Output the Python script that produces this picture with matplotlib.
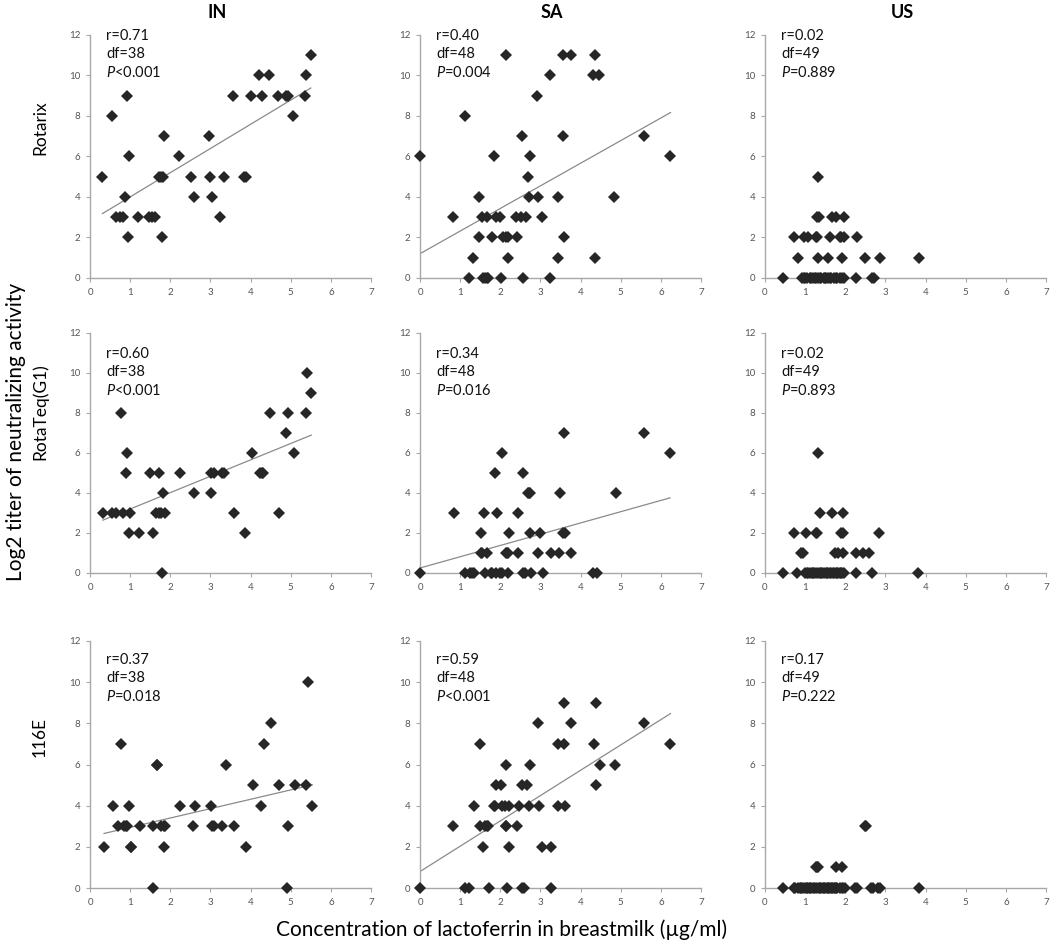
import matplotlib
matplotlib.use("Agg")
import matplotlib.pyplot as plt
import numpy as np

plt.rcParams['font.family'] = ['Lato', 'DejaVu Sans']
plt.rcParams['mathtext.fontset'] = 'custom'
plt.rcParams['mathtext.it'] = 'Lato:italic'
plt.rcParams['mathtext.rm'] = 'Lato'

countries = ["IN", "SA", "US"]
vaccines = ["Rotarix", "RotaTeq(G1)", "116E"]

# ---- Rotarix ----
in_rotarix_x = [0.31, 0.54, 0.66, 0.75, 0.83, 0.91, 0.88, 0.98, 0.95, 1.2, 1.47, 1.55, 1.62, 1.71, 1.76,
                1.82, 1.8, 1.85, 2.21, 2.52, 2.58, 2.97, 3.0, 3.05, 3.24, 3.33, 3.55, 3.84, 3.88, 4.01,
                4.21, 4.28, 4.46, 4.69, 4.88, 4.93, 5.05, 5.36, 5.38, 5.5]
in_rotarix_y = [5, 8, 3, 3, 3, 9, 4, 6, 2, 3, 3, 3, 3, 5, 5,
                5, 2, 7, 6, 5, 4, 7, 5, 4, 3, 5, 9, 5, 5, 9,
                10, 9, 10, 9, 9, 9, 8, 9, 10, 11]

sa_rotarix_x = [0.0, 0.81, 1.11, 1.23, 1.33, 1.48, 1.48, 1.55, 1.68, 1.58, 1.62, 1.66, 1.7, 1.8, 1.84,
                1.89, 2.0, 2.02, 2.13, 2.07, 2.13, 2.19, 2.2, 2.42, 2.4, 2.51, 2.63, 2.55, 2.56, 2.7,
                2.71, 2.75, 2.92, 2.94, 3.03, 3.25, 3.25, 3.43, 3.45, 3.55, 3.59, 3.57, 3.77, 4.3, 4.47,
                4.37, 4.35, 4.84, 5.58, 6.24]
sa_rotarix_y = [6, 3, 8, 0, 1, 4, 2, 3, 3, 0, 0, 0, 0, 2, 6,
                3, 3, 0, 11, 2, 2, 2, 1, 2, 3, 3, 3, 7, 0, 5,
                4, 6, 9, 4, 3, 10, 0, 1, 4, 7, 2, 11, 11, 10, 10,
                11, 1, 4, 7, 6]

us_rotarix_x = [0.44, 0.91, 0.98, 1.05, 1.12, 1.2, 1.27, 1.33, 1.4, 1.46, 1.52, 1.58, 1.65, 1.72, 1.8,
                1.88, 1.96, 2.27, 2.67, 2.71, 1.0, 1.15, 1.24, 1.36, 1.5, 1.62, 1.76, 1.92,
                0.82, 1.32, 1.57, 1.91, 2.49, 2.87, 3.84,
                0.71, 0.96, 1.06, 1.26, 1.3, 1.63, 1.86, 1.89, 1.97, 2.3,
                1.3, 1.34, 1.68, 1.77, 1.97, 1.32]
us_rotarix_y = [0] * 28 + [1] * 7 + [2] * 10 + [3] * 5 + [5]

# ---- RotaTeq(G1) ----
in_rotateq_x = [0.32, 0.55, 0.66, 0.81, 0.76, 0.93, 0.9, 1.0, 0.97, 1.23, 1.5, 1.56, 1.65, 1.73, 1.86,
                1.73, 1.8, 1.83, 2.24, 2.59, 3.02, 3.02, 3.09, 3.28, 3.35, 3.58, 3.87, 4.04, 4.23, 4.3,
                4.48, 4.71, 4.28, 4.89, 4.92, 5.07, 5.38, 5.41, 5.51, 1.78]
in_rotateq_y = [3, 3, 3, 3, 8, 6, 5, 3, 2, 2, 5, 2, 3, 3, 3,
                5, 0, 4, 5, 4, 4, 5, 5, 5, 5, 3, 2, 6, 5, 5,
                8, 3, 5, 7, 8, 6, 8, 10, 9, 3]

sa_rotateq_x = [0.0, 0.85, 1.13, 1.24, 1.34, 1.53, 1.53, 1.68, 1.59, 1.61, 1.76, 1.89, 1.86, 1.91, 2.04,
                2.05, 2.14, 2.2, 2.22, 2.2, 2.44, 2.45, 2.56, 2.56, 2.61, 2.68, 2.75, 2.75, 2.77, 2.94,
                2.98, 3.06, 3.27, 3.46, 3.48, 3.58, 3.6, 3.77, 4.32, 4.4, 4.88, 5.59, 6.23,
                1.3, 1.8, 2.17, 2.72, 3.57, 1.55, 2.0]
sa_rotateq_y = [0, 3, 0, 0, 0, 2, 1, 1, 3, 0, 0, 0, 5, 3, 6,
                0, 1, 1, 2, 0, 3, 1, 5, 0, 0, 4, 4, 2, 0, 1,
                2, 0, 1, 1, 4, 7, 2, 1, 0, 0, 4, 7, 6,
                0, 0, 1, 4, 2, 1, 0]

us_rotateq_x = [0.44, 0.8, 1.0, 1.05, 1.12, 1.2, 1.27, 1.33, 1.4, 1.46, 1.52, 1.58, 1.64, 1.7, 1.76,
                1.82, 1.93, 1.97, 2.27, 2.67, 3.8, 1.08, 1.16, 1.23, 1.36, 1.43, 1.55, 1.62, 1.73, 1.79,
                1.86, 1.9,
                0.9, 0.94, 1.74, 1.83, 1.95, 2.27, 2.44, 2.6,
                0.71, 1.03, 1.26, 1.3, 1.89, 1.95, 2.85,
                1.36, 1.66, 1.95, 1.31]
us_rotateq_y = [0] * 32 + [1] * 8 + [2] * 7 + [3] * 3 + [6]

# ---- 116E ----
in_116e_x = [0.35, 0.57, 0.77, 0.7, 0.85, 0.9, 0.96, 1.01, 1.25, 1.56, 1.58, 1.66, 1.78, 1.84, 1.88,
             1.85, 2.24, 2.57, 2.62, 3.01, 3.03, 3.1, 3.29, 3.38, 3.58, 3.89, 4.05, 4.26, 4.33, 4.5,
             4.72, 4.93, 4.9, 5.1, 5.38, 5.44, 5.54, 1.03, 1.68, 0.93]
in_116e_y = [2, 4, 7, 3, 3, 3, 4, 2, 3, 3, 0, 6, 3, 3, 3,
             2, 4, 3, 4, 4, 3, 3, 3, 6, 3, 2, 5, 4, 7, 8,
             5, 3, 0, 5, 5, 10, 4, 2, 6, 3]

sa_116e_x = [0.0, 0.83, 1.11, 1.23, 1.34, 1.5, 1.5, 1.61, 1.69, 1.57, 1.71, 1.84, 1.88, 1.9, 2.03,
             2.05, 2.11, 2.21, 2.15, 2.15, 2.17, 2.22, 2.42, 2.47, 2.53, 2.67, 2.55, 2.58, 2.74, 2.72,
             2.93, 2.96, 3.05, 3.26, 3.26, 3.45, 3.58, 3.45, 3.6, 3.58, 3.76, 4.33, 4.38, 4.38, 4.48,
             4.85, 5.59, 6.24, 1.66, 2.13]
sa_116e_y = [0, 3, 0, 0, 4, 7, 3, 3, 3, 2, 0, 4, 4, 5, 5,
             4, 4, 4, 6, 3, 0, 2, 3, 4, 5, 5, 0, 0, 6, 4,
             8, 4, 2, 0, 2, 7, 7, 4, 4, 9, 8, 7, 9, 5, 6,
             6, 8, 7, 3, 3]

us_116e_x = [0.44, 0.71, 0.81, 0.92, 1.03, 1.13, 1.25, 1.36, 1.46, 1.54, 1.63, 1.75, 1.87, 1.99, 2.29,
             2.68, 2.87, 3.83, 0.75, 0.86, 0.97, 1.08, 1.18, 1.3, 1.4, 1.5, 1.58, 1.68, 1.8, 1.92,
             2.25, 2.64, 1.21, 1.44, 1.72, 1.6, 1.34, 1.05, 0.9, 1.95, 2.82, 1.78, 1.12, 1.66,
             1.3, 1.32, 1.78, 1.93, 1.26,
             2.5, 2.52]
us_116e_y = [0] * 44 + [1] * 5 + [3] * 2

# trend lines (slope, intercept); None = not drawn
fits = [[(1.195, 2.81), (1.117, 1.2), None],
        [(0.819, 2.38), (0.563, 0.25), None],
        [(0.455, 2.49), (1.23, 0.8), None]]

stats = [[("0.71", "38", "<0.001"), ("0.40", "48", "=0.004"), ("0.02", "49", "=0.889")],
         [("0.60", "38", "<0.001"), ("0.34", "48", "=0.016"), ("0.02", "49", "=0.893")],
         [("0.37", "38", "=0.018"), ("0.59", "48", "<0.001"), ("0.17", "49", "=0.222")]]

data = [[(in_rotarix_x, in_rotarix_y), (sa_rotarix_x, sa_rotarix_y), (us_rotarix_x, us_rotarix_y)],
        [(in_rotateq_x, in_rotateq_y), (sa_rotateq_x, sa_rotateq_y), (us_rotateq_x, us_rotateq_y)],
        [(in_116e_x, in_116e_y), (sa_116e_x, sa_116e_y), (us_116e_x, us_116e_y)]]

W, H = 1050, 950
fig = plt.figure(figsize=(W / 100, H / 100), dpi=100)

col_left = [90, 420, 765]
col_w = 281
row_top = [35, 333, 641]
row_bot = [278, 573, 888]
text_y = [12.3, 11.3, 11.4]

spine_c = "#a8a8a8"
for r in range(3):
    for c in range(3):
        ax = fig.add_axes([col_left[c] / W, 1 - row_bot[r] / H, col_w / W, (row_bot[r] - row_top[r]) / H])
        x, y = data[r][c]
        x = np.array(x)
        ax.plot(x, y, 'D', color="#262626", ms=6, mew=0, clip_on=False, zorder=3)
        if fits[r][c] is not None:
            m, b = fits[r][c]
            xx = np.array([x.min(), x.max()])
            ax.plot(xx, m * xx + b, color="#8a8a8a", lw=0.9, zorder=2)
        ax.set_xlim(0, 7)
        ax.set_ylim(0, 12)
        ax.set_xticks(range(0, 8))
        ax.set_yticks(range(0, 13, 2))
        for s in ["top", "right"]:
            ax.spines[s].set_visible(False)
        for s in ["left", "bottom"]:
            ax.spines[s].set_color(spine_c)
            ax.spines[s].set_linewidth(1)
        ax.tick_params(direction="out", length=3, width=0.8, color=spine_c,
                       labelsize=7, labelcolor="#555555", pad=4)
        rv, df, pv = stats[r][c]
        ax.text(0.4, text_y[r], "r=" + rv + "\ndf=" + df + "\n$P$" + pv,
                fontsize=10.5, va="top", ha="left", linespacing=1.35, color="#111111")

# column titles
for c in range(3):
    fig.text((col_left[c] + 127 + c * 5) / W, 1 - 13 / H, countries[c], fontsize=13,
             fontweight="bold", ha="center", va="center")

# row labels
row_lab_y = [128, 412, 737]
for r in range(3):
    fig.text(40 / W, 1 - row_lab_y[r] / H, vaccines[r], fontsize=12.5, rotation=90,
             ha="center", va="center")

fig.text(16 / W, 1 - 432 / H, "Log2 titer of neutralizing activity", fontsize=15,
         rotation=90, ha="center", va="center")
fig.text(502 / W, 1 - 930 / H, "Concentration of lactoferrin in breastmilk (\u00b5g/ml)",
         fontsize=15, ha="center", va="center")

fig.savefig("out.png", dpi=100)
